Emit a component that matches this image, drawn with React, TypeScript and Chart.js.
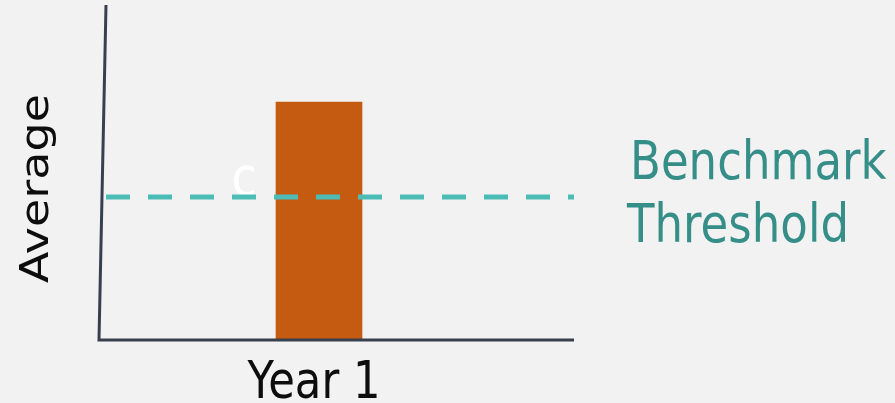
import React, { useEffect, useRef } from "react";
import { Chart, registerables } from "chart.js";

Chart.register(...registerables);

const categories = ["Year 1"];
const averageValues = [71];
const benchmarkValue = 42.7;
const yAxisTitle = "Average";
const benchmarkLines = ["Benchmark", "Threshold"];
const markerText = "c";

const FONT = "'DejaVu Sans', Verdana, sans-serif";
const SX = 0.85;

function drawText(ctx: CanvasRenderingContext2D, text: string, x: number, y: number, size: number, color: string, align: CanvasTextAlign, rot = 0) {
  ctx.save();
  ctx.translate(x, y);
  if (rot) ctx.rotate(rot);
  if (!rot) ctx.scale(SX, 1);
  else ctx.scale(1, SX);
  ctx.font = `${size}px ${FONT}`;
  ctx.fillStyle = color;
  ctx.textAlign = align;
  ctx.textBaseline = "alphabetic";
  ctx.fillText(text, 0, 0);
  ctx.restore();
}

const decorPlugin = {
  id: "decor",
  afterDatasetsDraw(chart: any) {
    const { ctx, chartArea, scales } = chart;
    const xs = scales.x;
    const ys = scales.y;
    const lineRight = chartArea.right + 35;
    ctx.save();
    // axes
    ctx.strokeStyle = "#38404f";
    ctx.lineWidth = 3;
    ctx.lineCap = "butt";
    ctx.beginPath();
    ctx.moveTo(chartArea.left + 7, chartArea.top);
    ctx.lineTo(chartArea.left, chartArea.bottom);
    ctx.lineTo(lineRight, chartArea.bottom);
    ctx.stroke();
    // marker text
    drawText(ctx, markerText, chartArea.left + 145, ys.getPixelForValue(benchmarkValue) - 2, 54, "#ffffff", "center");
    // benchmark dashed line
    const by = ys.getPixelForValue(benchmarkValue);
    ctx.strokeStyle = "#4dbbb6";
    ctx.lineWidth = 5;
    ctx.setLineDash([24, 18]);
    ctx.beginPath();
    ctx.moveTo(chartArea.left + 7, by);
    ctx.lineTo(lineRight, by);
    ctx.stroke();
    ctx.setLineDash([]);
    // benchmark label
    drawText(ctx, benchmarkLines[0], 630, by - 18, 53, "#368e89", "left");
    drawText(ctx, benchmarkLines[1], 627, by + 45, 53, "#368e89", "left");
    // x label
    const label = xs.getLabelForValue(0);
    drawText(ctx, label, xs.getPixelForTick(0) - 5, chartArea.bottom + 58, 51, "#0d0d0d", "center");
    // y title
    drawText(ctx, yAxisTitle, 48, (chartArea.top + chartArea.bottom) / 2 + 16, 46, "#0d0d0d", "center", -Math.PI / 2);
    ctx.restore();
  },
};

export default function App() {
  const ref = useRef<HTMLCanvasElement | null>(null);
  useEffect(() => {
    if (!ref.current) return;
    const chart = new Chart(ref.current, {
      type: "bar",
      data: {
        labels: categories,
        datasets: [
          {
            label: yAxisTitle,
            data: averageValues,
            backgroundColor: "#c55a11",
            borderWidth: 0,
            barThickness: 86,
          },
        ],
      },
      options: {
        animation: false,
        responsive: true,
        maintainAspectRatio: false,
        layout: { padding: { left: 99, right: 356, top: 5, bottom: 63 } },
        plugins: { legend: { display: false }, tooltip: { enabled: false } },
        scales: {
          x: { display: false },
          y: { display: false, min: 0, max: 100 },
        },
      },
      plugins: [decorPlugin],
    });
    return () => chart.destroy();
  }, []);
  return (
    <div style={{ position: "fixed", left: 0, top: 0, width: 895, height: 403, background: "#f2f2f2" }}>
      <canvas ref={ref} />
    </div>
  );
}
